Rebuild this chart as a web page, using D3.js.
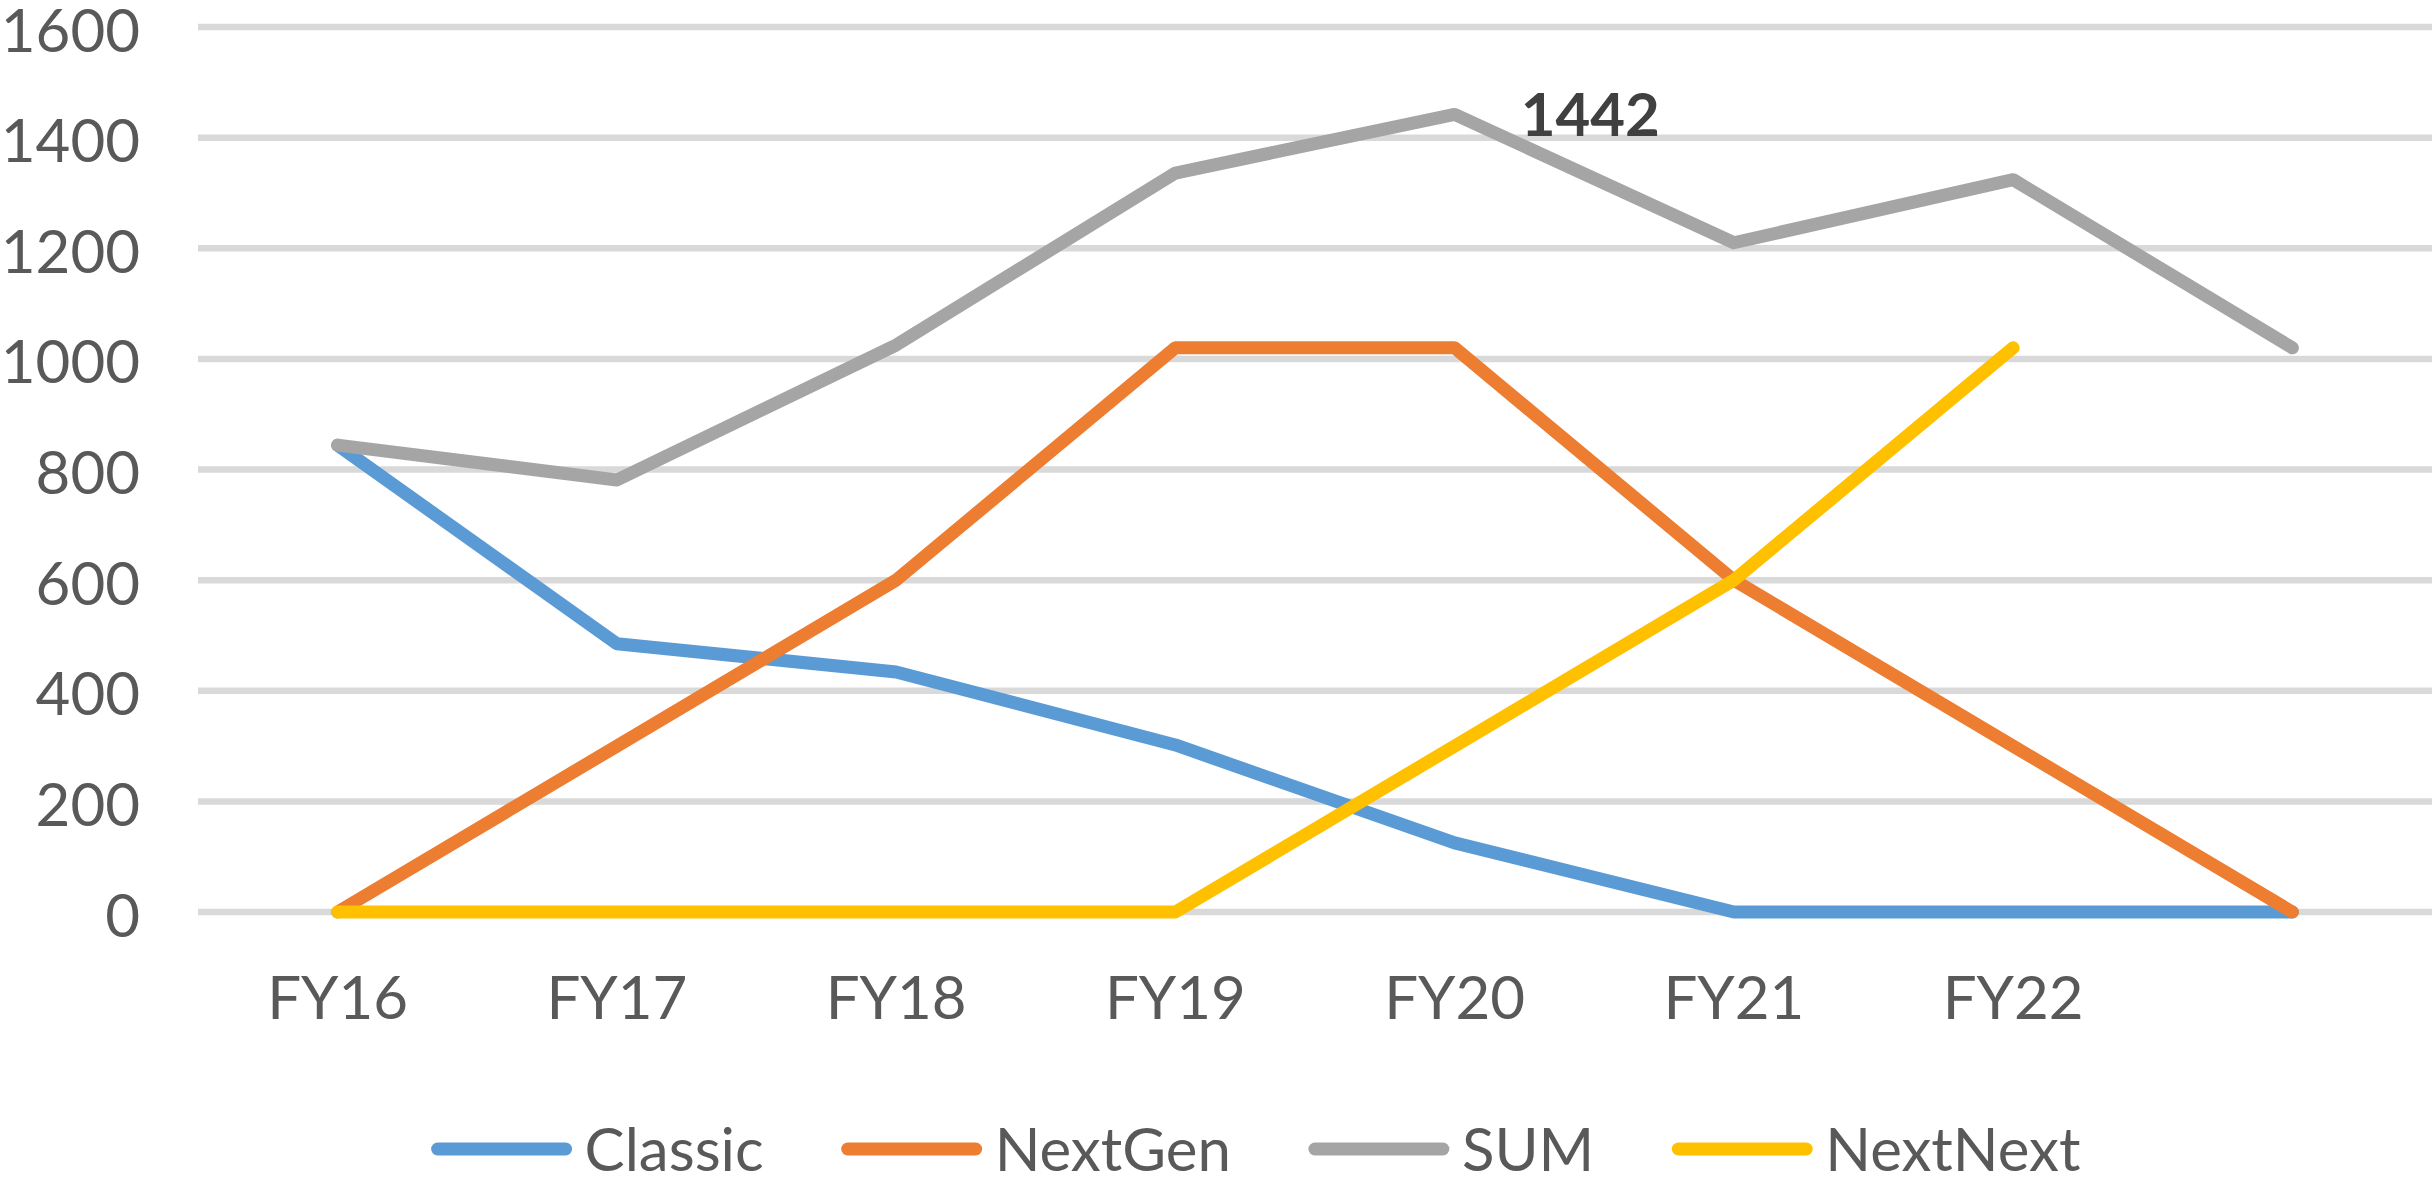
<!DOCTYPE html>
<html>
<head>
<meta charset="utf-8">
<script src="https://cdn.jsdelivr.net/npm/d3@7"></script>
<style>
  body { margin: 0; background: #fff; }
  svg { display: block; font-family: Lato, "Open Sans", sans-serif; }
</style>
</head>
<body>
<svg id="chart" width="2432" height="1188"></svg>
<script>
// data
const categories = ["FY16", "FY17", "FY18", "FY19", "FY20", "FY21", "FY22", ""];
const classic  = [844, 485, 434, 302, 125, 0, 0, 0];
const nextGen  = [0, 300, 600, 1020, 1020, 600, 300, 0];
const sum      = [844, 781, 1025, 1336, 1442, 1210, 1324, 1020];
const nextNext = [0, 0, 0, 0, 300, 600, 1020, null];
const yTicks = [0, 200, 400, 600, 800, 1000, 1200, 1400, 1600];
const seriesNames = ["Classic", "NextGen", "SUM", "NextNext"];
const seriesColors = ["#5B9BD5", "#ED7D31", "#A5A5A5", "#FFC000"];

const plotLeft = 198, plotRight = 2432, plotTop = 27, plotBottom = 912;
const svg = d3.select("#chart");

const x = d3.scaleBand().domain(categories).range([plotLeft, plotRight]);
const y = d3.scaleLinear().domain([0, 1600]).range([plotBottom, plotTop]);
const cx = (i) => x(categories[i]) + x.bandwidth() / 2;

// gridlines
svg.append("g").selectAll("line").data(yTicks).join("line")
  .attr("x1", plotLeft).attr("x2", plotRight)
  .attr("y1", d => y(d)).attr("y2", d => y(d))
  .attr("stroke", "#D9D9D9").attr("stroke-width", 6.5);

// y axis labels
let yAxis = svg.append("g").attr("transform", `translate(${plotLeft},0)`)
  .call(d3.axisLeft(y).tickValues(yTicks).tickFormat(d3.format("d")).tickSize(0).tickPadding(58));
yAxis.select(".domain").remove();
yAxis.selectAll("text").attr("font-size", 60).attr("fill", "#595959")
  .attr("font-family", "Lato").attr("dy", "0.4em");

// x axis labels
let xAxis = svg.append("g").attr("transform", `translate(0,${plotBottom})`)
  .call(d3.axisBottom(x).tickSize(0).tickPadding(64));
xAxis.select(".domain").remove();
xAxis.selectAll("text").attr("font-size", 60).attr("fill", "#595959")
  .attr("font-family", "Lato");

// series lines
const allSeries = [classic, nextGen, sum, nextNext];
const line = d3.line()
  .defined(d => d != null)
  .x((d, i) => cx(i))
  .y(d => y(d));

allSeries.forEach((s, k) => {
  svg.append("path")
    .attr("d", line(s))
    .attr("fill", "none")
    .attr("stroke", seriesColors[k])
    .attr("stroke-width", 13)
    .attr("stroke-linecap", "round")
    .attr("stroke-linejoin", "round");
});

// data label on SUM peak
const peak = d3.maxIndex(sum);
svg.append("text")
  .attr("x", cx(peak) + 66).attr("y", y(sum[peak]))
  .attr("dy", "0.36em")
  .attr("font-size", 60).attr("font-weight", "bold")
  .attr("fill", "#404040")
  .text(sum[peak]);

// legend
const legY = 1149, lineLen = 140, txtGap = 13, itemGap = 78;
const leg = svg.append("g");
const items = seriesNames.map((name, k) => {
  const g = leg.append("g");
  g.append("line")
    .attr("x1", 6).attr("x2", lineLen - 6)
    .attr("y1", legY).attr("y2", legY)
    .attr("stroke", seriesColors[k]).attr("stroke-width", 13)
    .attr("stroke-linecap", "round");
  const t = g.append("text")
    .attr("x", lineLen + txtGap).attr("y", legY).attr("dy", "0.36em")
    .attr("font-size", 60).attr("fill", "#595959")
    .text(name);
  return { g, w: lineLen + txtGap + t.node().getComputedTextLength() };
});
const total = d3.sum(items, d => d.w) + itemGap * (items.length - 1);
let pos = 1256 - total / 2;
items.forEach(it => {
  it.g.attr("transform", `translate(${pos},0)`);
  pos += it.w + itemGap;
});
</script>
</body>
</html>
